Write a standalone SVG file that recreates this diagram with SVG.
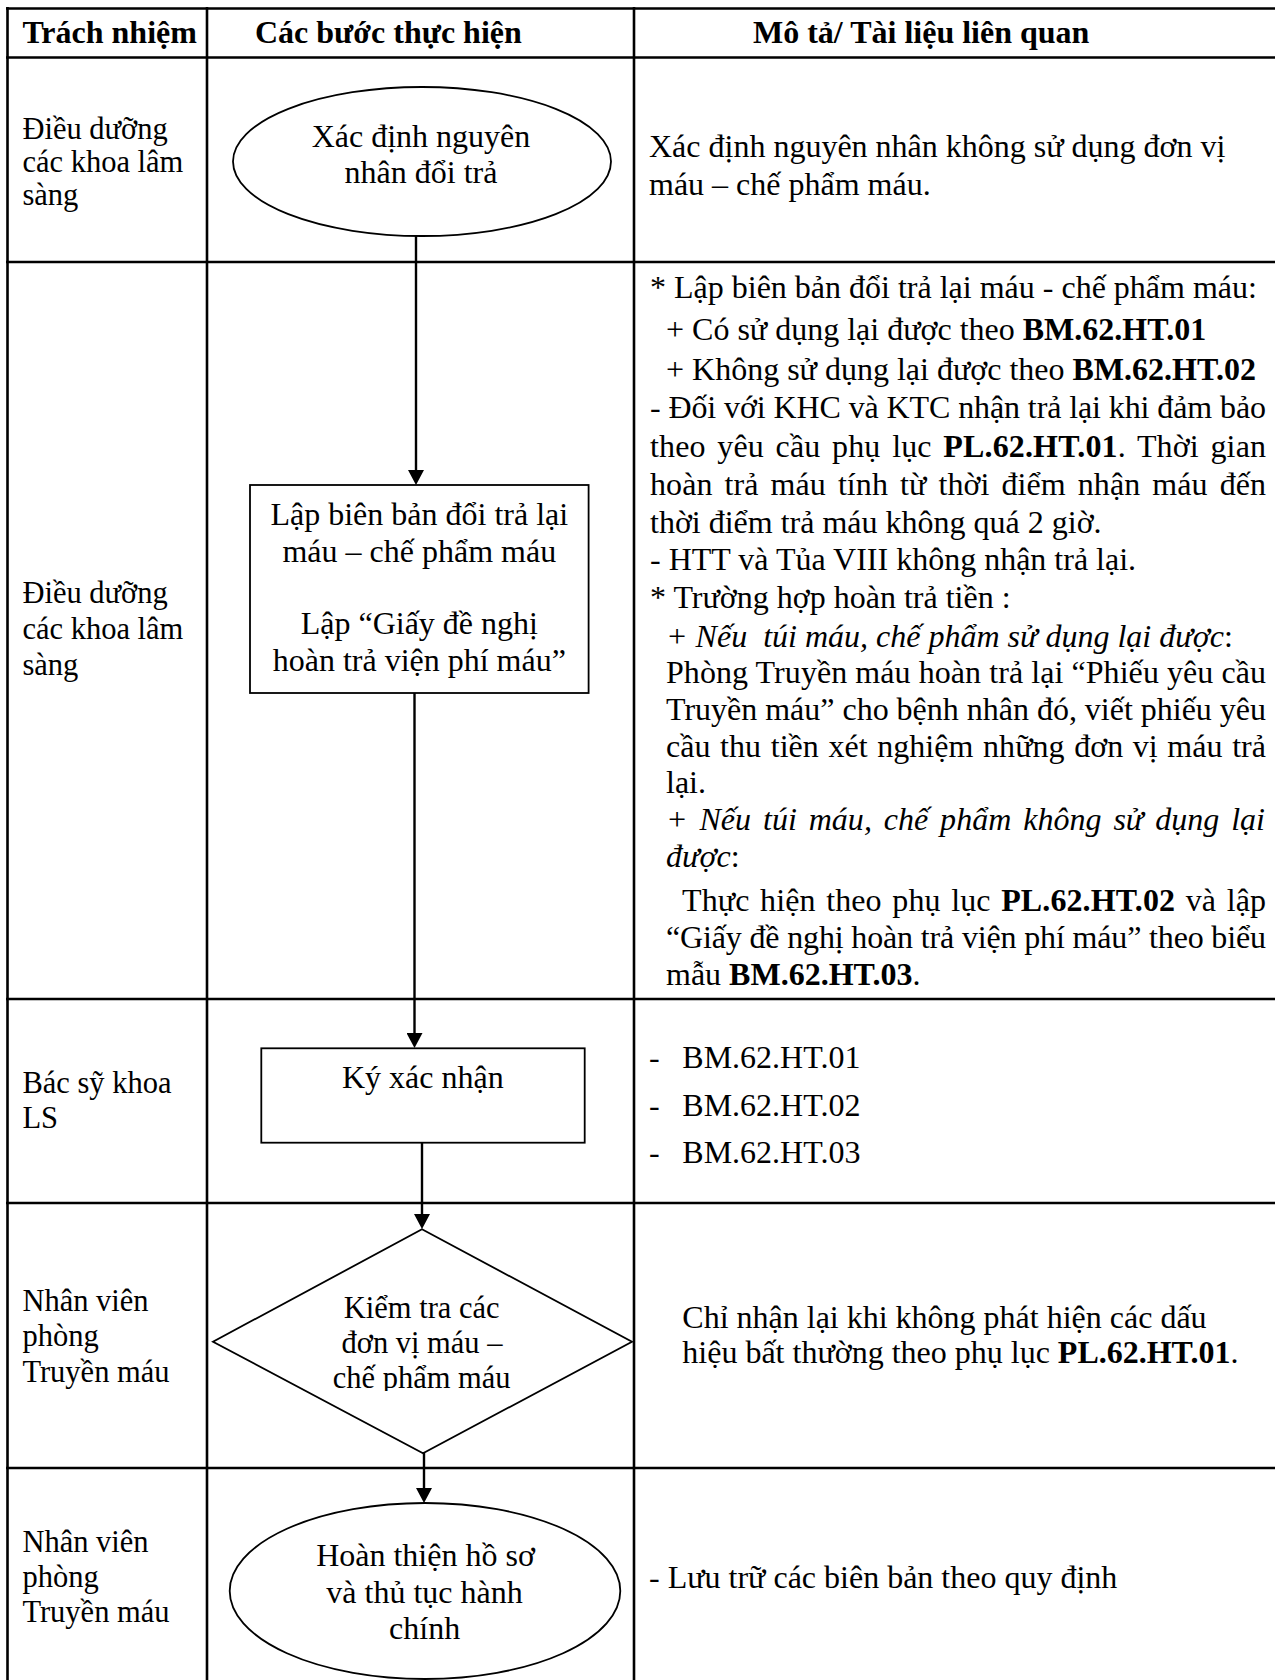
<svg xmlns="http://www.w3.org/2000/svg" width="1275" height="1680" viewBox="0 0 1275 1680">
<defs>
<style>
text { font-family: "Liberation Serif", "Times New Roman", serif; fill: #000; font-size: 32px; }
.lane { font-size: 30.5px; }
.h { font-weight: bold; }
.b { font-weight: bold; }
.i { font-style: italic; }
.c { text-anchor: middle; }
.grid { stroke: #000; stroke-width: 2.6; fill: none; }
.shape { fill: #fff; stroke: #000; stroke-width: 1.8; }
.conn { stroke: #000; stroke-width: 2.4; fill: none; marker-end: url(#arrow); }
</style>
<marker id="arrow" viewBox="0 0 15 16" markerWidth="15" markerHeight="16" refX="7" refY="8" orient="auto" markerUnits="userSpaceOnUse"><path d="M0,0 L15,8 L0,16 Z" fill="#000"/></marker>
<clipPath id="dclip"><rect x="207" y="1220" width="427" height="171"/></clipPath>
</defs>
<rect width="1275" height="1680" fill="#fff"/>

<g id="table-grid" class="grid">
  <path d="M6,8.5 H1275 M6,57.5 H1275 M6,262 H1275 M6,999 H1275 M6,1203 H1275 M6,1468 H1275"/>
  <path d="M7.5,7 V1680 M207,7 V1680 M634,7 V1680"/>
</g>

<g id="header">
  <text class="h" x="22.4" y="43">Trách nhiệm</text>
  <text class="h" x="255" y="43">Các bước thực hiện</text>
  <text class="h" x="753" y="43">Mô tả/ Tài liệu liên quan</text>
</g>

<g id="lanes">
  <g id="lane1"><text class="lane" x="22.4" y="139">Điều dưỡng</text><text class="lane" x="22.4" y="172">các khoa lâm</text><text class="lane" x="22.4" y="205">sàng</text></g>
  <g id="lane2"><text class="lane" x="22.4" y="603">Điều dưỡng</text><text class="lane" x="22.4" y="639">các khoa lâm</text><text class="lane" x="22.4" y="675">sàng</text></g>
  <g id="lane3"><text class="lane" x="22.4" y="1093">Bác sỹ khoa</text><text class="lane" x="22.4" y="1128">LS</text></g>
  <g id="lane4"><text class="lane" x="22.4" y="1311">Nhân viên</text><text class="lane" x="22.4" y="1346">phòng</text><text class="lane" x="22.4" y="1382">Truyền máu</text></g>
  <g id="lane5"><text class="lane" x="22.4" y="1552">Nhân viên</text><text class="lane" x="22.4" y="1587">phòng</text><text class="lane" x="22.4" y="1622">Truyền máu</text></g>
</g>

<g id="connectors">
  <path class="conn" d="M416,236 V477"/>
  <path class="conn" d="M414.5,693 V1040"/>
  <path class="conn" d="M422,1143 V1221"/>
  <path class="conn" d="M424,1453 V1495"/>
</g>

<g id="node-xac-dinh">
  <ellipse class="shape" cx="422" cy="161.5" rx="189" ry="74.5"/>
  <text class="c" x="421" y="147">Xác định nguyên</text>
  <text class="c" x="421" y="183">nhân đổi trả</text>
</g>

<g id="node-lap-bien-ban">
  <rect class="shape" x="250" y="485" width="338.6" height="208"/>
  <text class="c" x="419.3" y="525">Lập biên bản đổi trả lại</text>
  <text class="c" x="419.3" y="562">máu – chế phẩm máu</text>
  <text class="c" x="419.3" y="634">Lập “Giấy đề nghị</text>
  <text class="c" x="419.3" y="671">hoàn trả viện phí máu”</text>
</g>

<g id="node-ky-xac-nhan">
  <rect class="shape" x="261.3" y="1048.3" width="323.4" height="94.4"/>
  <text class="c" x="422.8" y="1088">Ký xác nhận</text>
</g>

<g id="node-kiem-tra">
  <polygon class="shape" points="422,1229.3 632,1341.7 423,1453.3 213,1341.7"/>
  <g clip-path="url(#dclip)">
    <text class="c lane" x="421.7" y="1318">Kiểm tra các</text>
    <text class="c lane" x="422" y="1353">đơn vị máu –</text>
    <text class="c lane" x="421.7" y="1388">chế phẩm máu</text>
  </g>
</g>

<g id="node-hoan-thien">
  <ellipse class="shape" cx="425" cy="1591" rx="195.3" ry="88"/>
  <text class="c" x="425.5" y="1566">Hoàn thiện hồ sơ</text>
  <text class="c" x="424.5" y="1603">và thủ tục hành</text>
  <text class="c" x="424.6" y="1638.5">chính</text>
</g>

<g id="desc-row1">
  <text x="649" y="157">Xác định nguyên nhân không sử dụng đơn vị</text>
  <text x="649" y="195">máu – chế phẩm máu.</text>
</g>

<g id="desc-row2">
  <text x="650" y="298">* Lập biên bản đổi trả lại máu - chế phẩm máu:</text>
  <text x="666" y="340">+ Có sử dụng lại được theo <tspan class="b">BM.62.HT.01</tspan></text>
  <text x="666" y="380">+ Không sử dụng lại được theo <tspan class="b">BM.62.HT.02</tspan></text>
  <text x="650" y="418" textLength="616" lengthAdjust="spacing">- Đối với KHC và KTC nhận trả lại khi đảm bảo</text>
  <text x="650" y="457" textLength="616" lengthAdjust="spacing" word-spacing="3.5">theo yêu cầu phụ lục <tspan class="b">PL.62.HT.01</tspan>. Thời gian</text>
  <text x="650" y="495" textLength="616" lengthAdjust="spacing" word-spacing="4">hoàn trả máu tính từ thời điểm nhận máu đến</text>
  <text x="650" y="533">thời điểm trả máu không quá 2 giờ.</text>
  <text x="650" y="570">- HTT và Tủa VIII không nhận trả lại.</text>
  <text x="650" y="608">* Trường hợp hoàn trả tiền :</text>
  <text x="666" y="647" xml:space="preserve"><tspan class="i">+ Nếu  túi máu, chế phẩm sử dụng lại được</tspan>:</text>
  <text x="666" y="683" textLength="600" lengthAdjust="spacing">Phòng Truyền máu hoàn trả lại “Phiếu yêu cầu</text>
  <text x="666" y="720" textLength="600" lengthAdjust="spacing">Truyền máu” cho bệnh nhân đó, viết phiếu yêu</text>
  <text x="666" y="757" textLength="600" lengthAdjust="spacing" word-spacing="1.5">cầu thu tiền xét nghiệm những đơn vị máu trả</text>
  <text x="666" y="793">lại.</text>
  <text class="i" x="666" y="830" textLength="599" lengthAdjust="spacing" word-spacing="3.8">+ Nếu túi máu, chế phẩm không sử dụng lại</text>
  <text x="666" y="867"><tspan class="i">được</tspan>:</text>
  <text x="682" y="911" textLength="584" lengthAdjust="spacing" word-spacing="2.5">Thực hiện theo phụ lục <tspan class="b">PL.62.HT.02</tspan> và lập</text>
  <text x="666" y="948" textLength="600" lengthAdjust="spacing">“Giấy đề nghị hoàn trả viện phí máu” theo biểu</text>
  <text x="666" y="985">mẫu <tspan class="b">BM.62.HT.03</tspan>.</text>
</g>

<g id="desc-row3">
  <text x="649" y="1068">-</text><text x="682.3" y="1068">BM.62.HT.01</text>
  <text x="649" y="1116">-</text><text x="682.3" y="1116">BM.62.HT.02</text>
  <text x="649" y="1163">-</text><text x="682.3" y="1163">BM.62.HT.03</text>
</g>

<g id="desc-row4">
  <text x="682.3" y="1328">Chỉ nhận lại khi không phát hiện các dấu</text>
  <text x="682.3" y="1363">hiệu bất thường theo phụ lục <tspan class="b">PL.62.HT.01</tspan>.</text>
</g>

<g id="desc-row5">
  <text x="649" y="1588">- Lưu trữ các biên bản theo quy định</text>
</g>
</svg>
